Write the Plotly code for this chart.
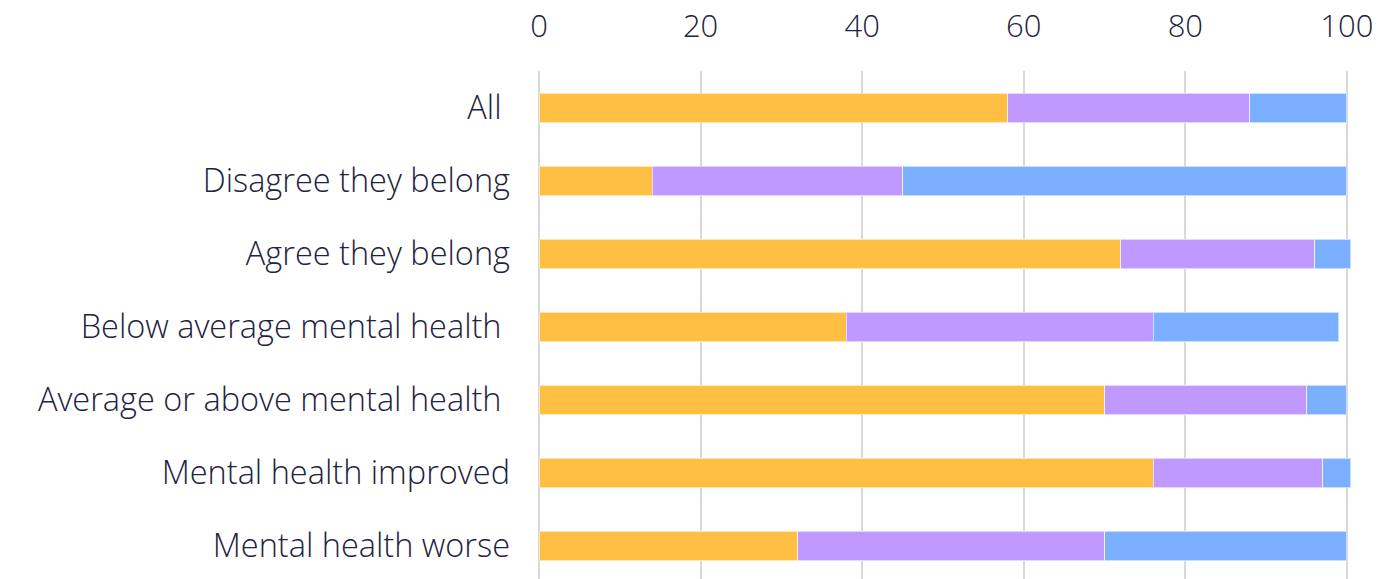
import plotly.graph_objects as go

categories = ["All\u00a0", "Disagree they belong", "Agree they belong",
              "Below average mental health\u00a0", "Average or above mental health\u00a0",
              "Mental health improved", "Mental health worse"]
series1 = [58, 14, 72, 38, 70, 76, 32]
series2 = [30, 31, 24, 38, 25, 21, 38]
series3 = [12, 55, 4.5, 23, 5, 3.5, 30]
tick_vals = [0, 20, 40, 60, 80, 100]

colors = ["#FFBF42", "#BF99FF", "#7AB0FF"]
fig = go.Figure()
for vals, c in zip([series1, series2, series3], colors):
    fig.add_trace(go.Bar(y=categories, x=vals, orientation="h",
                         marker=dict(color=c, line=dict(color="rgba(255,255,255,0.6)", width=1)),
                         hoverinfo="x+y"))

fig.update_layout(
    barmode="stack", bargap=0.6, showlegend=False,
    width=1378, height=579,
    margin=dict(l=539, r=23, t=71, b=0, autoexpand=False),
    paper_bgcolor="white", plot_bgcolor="white",
    font=dict(family="Open Sans, sans-serif", size=32, color="#23233f"),
    xaxis=dict(side="top", range=[0, 101], tickvals=tick_vals, showgrid=True,
               gridcolor="#d9d9d9", gridwidth=2, zeroline=True, zerolinecolor="#d9d9d9",
               zerolinewidth=2, showline=False, ticks="", ticklabelstandoff=27,
               tickfont=dict(size=31, weight=300), automargin=False),
    yaxis=dict(categoryorder="array", categoryarray=categories,
               range=[6.452, -0.507], showgrid=False, zeroline=False, showline=False,
               ticks="", ticklabelstandoff=28, tickfont=dict(size=32.5, weight=300),
               automargin=False),
)
fig.write_html("out.html", config={"displayModeBar": False},
               post_script="document.body.style.margin='0';document.body.style.overflow='hidden';")
